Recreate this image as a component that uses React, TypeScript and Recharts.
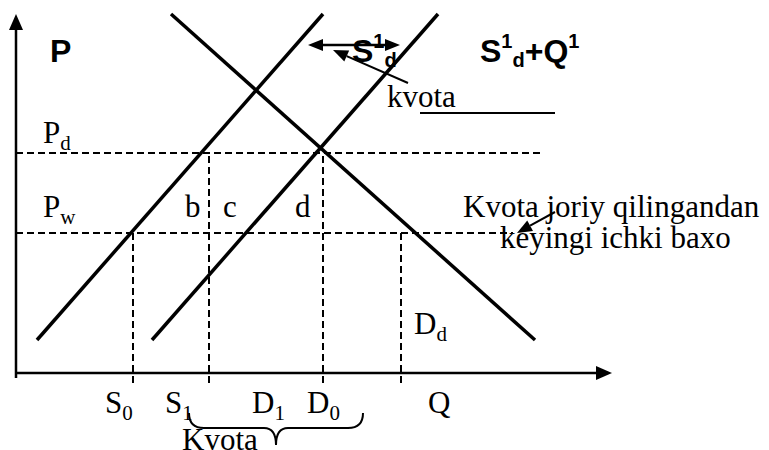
import React from 'react'
import { ComposedChart, Line, XAxis, YAxis, ReferenceLine, ReferenceDot } from 'recharts'

// quantities / prices (origin = axes corner)
const supplyQ = [21, 307]
const supplyP = [33, 359]
const quotaSupplyQ = [136, 422]
const quotaSupplyP = [33, 359]
const demandQ = [155, 519]
const demandP = [359, 33]

const priceSubs = ['d', 'w']
const priceValues = [220, 140]
const priceLineEnds = [524, 497]
const priceLabelP = [230, 156]

const qtyValues = [117, 193, 307, 385]
const qtyLineTops = [140, 220, 220, 140]
const qtyNames = ['S', 'S', 'D', 'D']
const qtySubs = ['0', '1', '1', '0']
const qtyLabelQ = [89, 149, 236, 291]

const SERIF = '"Liberation Serif", "Times New Roman", serif'
const SANS = '"Liberation Sans", Arial, sans-serif'

const toPoints = (qs: number[], ps: number[]) => qs.map((q, i) => ({ q, p: ps[i] }))

const supplyData = toPoints(supplyQ, supplyP)
const quotaSupplyData = toPoints(quotaSupplyQ, quotaSupplyP)
const demandData = toPoints(demandQ, demandP)

function head(tx: number, ty: number, fx: number, fy: number, len: number, hw: number) {
  const dx = tx - fx
  const dy = ty - fy
  const d = Math.sqrt(dx * dx + dy * dy) || 1
  const ux = dx / d
  const uy = dy / d
  const bx = tx - ux * len
  const by = ty - uy * len
  return {
    bx,
    by,
    pts: `${tx},${ty} ${bx - uy * hw},${by + ux * hw} ${bx + uy * hw},${by - ux * hw}`,
  }
}

const arrowShape = (both: boolean, width: number, len = 15, hw = 6) => (props: any) => {
  const { x1, y1, x2, y2 } = props
  const h2 = head(x2, y2, x1, y1, len, hw)
  const h1 = both ? head(x1, y1, x2, y2, len, hw) : null
  return (
    <g>
      <line x1={h1 ? h1.bx : x1} y1={h1 ? h1.by : y1} x2={h2.bx} y2={h2.by} stroke="#000" strokeWidth={width} />
      <polygon points={h2.pts} fill="#000" />
      {h1 && <polygon points={h1.pts} fill="#000" />}
    </g>
  )
}

const braceShape = (props: any) => {
  const { x1, y1, x2 } = props
  const mid = (x1 + x2) / 2
  const y = y1 + 15
  const d = `M${x1},${y1} Q${x1},${y} ${x1 + 15},${y} L${mid - 12},${y} Q${mid},${y} ${mid},${y + 17} Q${mid},${y} ${mid + 12},${y} L${x2 - 15},${y} Q${x2},${y} ${x2},${y1}`
  return <path d={d} fill="none" stroke="#000" strokeWidth={2} />
}

function note(key: string, q: number, p: number, content: React.ReactNode, font = SERIF, size = 31, bold = false) {
  return (
    <ReferenceDot
      key={key}
      x={q}
      y={p}
      r={0}
      ifOverflow="visible"
      shape={(props: any) => (
        <text x={props.cx} y={props.cy} fontFamily={font} fontSize={size} fontWeight={bold ? 'bold' : 'normal'} fill="#000">
          {content}
        </text>
      )}
    />
  )
}

const sub = (s: string, size = 21) => (
  <tspan fontSize={size} dy={7}>
    {s}
  </tspan>
)

export default function App() {
  return (
    <div style={{ position: 'absolute', left: 0, top: 0, background: '#fff' }}>
      <ComposedChart width={769} height={450} margin={{ top: 0, right: 0, bottom: 0, left: 0 }}>
        <XAxis type="number" dataKey="q" domain={[-16, 753]} allowDataOverflow hide />
        <YAxis type="number" dataKey="p" domain={[-77, 373]} allowDataOverflow hide />

        {/* axes */}
        <ReferenceLine segment={[{ x: 0, y: -5 }, { x: 0, y: 359 }]} ifOverflow="visible" shape={arrowShape(false, 2.5, 16, 7)} />
        <ReferenceLine segment={[{ x: 0, y: 0 }, { x: 596, y: 0 }]} ifOverflow="visible" shape={arrowShape(false, 2.5, 16, 7)} />

        {/* dashed guides */}
        {priceValues.map((p, i) => (
          <ReferenceLine key={'h' + i} segment={[{ x: 0, y: p }, { x: priceLineEnds[i], y: p }]} stroke="#000" strokeWidth={2} strokeDasharray="7 4" ifOverflow="visible" />
        ))}
        {qtyValues.map((q, i) => (
          <ReferenceLine key={'v' + i} segment={[{ x: q, y: -10 }, { x: q, y: qtyLineTops[i] }]} stroke="#000" strokeWidth={2} strokeDasharray="7 4" ifOverflow="visible" />
        ))}

        <Line data={supplyData} dataKey="p" stroke="#000" strokeWidth={3.5} strokeDasharray="none" strokeLinecap="butt" dot={false} activeDot={false} isAnimationActive={false} />
        <Line data={quotaSupplyData} dataKey="p" stroke="#000" strokeWidth={3.5} strokeDasharray="none" strokeLinecap="butt" dot={false} activeDot={false} isAnimationActive={false} />
        <Line data={demandData} dataKey="p" stroke="#000" strokeWidth={3.5} strokeDasharray="none" strokeLinecap="butt" dot={false} activeDot={false} isAnimationActive={false} />

        {/* annotation arrows */}
        <ReferenceLine segment={[{ x: 292, y: 328 }, { x: 384, y: 328 }]} ifOverflow="visible" shape={arrowShape(true, 2.5, 15, 6)} />
        <ReferenceLine segment={[{ x: 392, y: 290 }, { x: 317, y: 323 }]} ifOverflow="visible" shape={arrowShape(false, 2, 15, 6)} />
        <ReferenceLine segment={[{ x: 539, y: 161 }, { x: 501, y: 140 }]} ifOverflow="visible" shape={arrowShape(false, 2, 15, 6)} />
        <ReferenceLine segment={[{ x: 404, y: 260 }, { x: 539, y: 260 }]} stroke="#000" strokeWidth={2} ifOverflow="visible" />
        <ReferenceLine segment={[{ x: 173, y: -40 }, { x: 347, y: -40 }]} ifOverflow="visible" shape={braceShape} />

        {/* texts */}
        {note('P', 34, 311, 'P', SANS, 32, true)}
        {note('S1d', 336, 311, (
          <>
            S<tspan fontSize={20} dy={-14}>1</tspan><tspan fontSize={20} dy={19}>d</tspan>
          </>
        ), SANS, 32, true)}
        {note('S1dQ1', 464, 311, (
          <>
            S<tspan fontSize={20} dy={-14}>1</tspan><tspan fontSize={20} dy={19}>d</tspan><tspan dy={-5}>+Q</tspan><tspan fontSize={20} dy={-14}>1</tspan>
          </>
        ), SANS, 32, true)}
        {note('kvota', 371, 266, 'kvota')}
        {priceValues.map((p, i) =>
          note('pl' + i, 27, priceLabelP[i], (
            <>
              P{sub(priceSubs[i])}
            </>
          ))
        )}
        {note('b', 169, 156, 'b')}
        {note('c', 207, 156, 'c')}
        {note('d', 279, 156, 'd')}
        {note('k1', 447, 156, 'Kvota joriy qilingandan')}
        {note('k2', 484, 125, 'keyingi ichki baxo')}
        {note('Dd', 398, 39, <>D{sub('d')}</>)}
        {qtyNames.map((n, i) => note('ql' + i, qtyLabelQ[i], -40, <>{n}{sub(qtySubs[i])}</>))}
        {note('Q', 412, -40, 'Q')}
        {note('Kvota', 166, -77, 'Kvota')}
      </ComposedChart>
    </div>
  )
}
